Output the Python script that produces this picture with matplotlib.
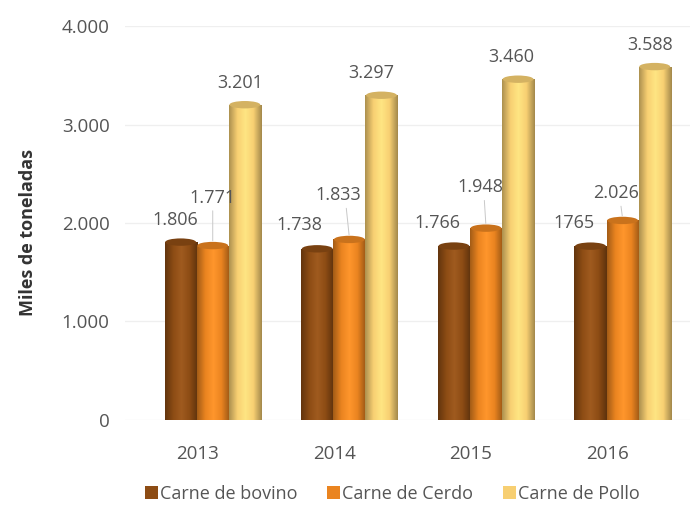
import matplotlib
matplotlib.use("Agg")
import matplotlib.pyplot as plt
import numpy as np
from matplotlib.colors import LinearSegmentedColormap, to_rgb
from matplotlib.patches import Ellipse

plt.rcParams['font.family'] = ['Open Sans', 'DejaVu Sans']

years = ["2013", "2014", "2015", "2016"]
series = ["Carne de bovino", "Carne de Cerdo", "Carne de Pollo"]
bovino = [1806, 1738, 1766, 1765]
cerdo = [1771, 1833, 1948, 2026]
pollo = [3201, 3297, 3460, 3588]
labels_bovino = ["1.806", "1.738", "1.766", "1765"]
labels_cerdo = ["1.771", "1.833", "1.948", "2.026"]
labels_pollo = ["3.201", "3.297", "3.460", "3.588"]

colors = ["#8d4c14", "#ea8420", "#f7cf72"]
# label offsets in points (dx, dy) from bar top
off_bovino = [(-3.6, 15.8), (-13, 17.3), (-12.2, 16.6), (-12.2, 16.6)]
off_cerdo = [(0, 34.6), (-8, 32), (-4.3, 29.5), (-4.7, 19.8)]
off_pollo = [(-3.6, 15.8), (-7.2, 15.8), (-5, 15.8), (-3.6, 15.8)]

fig = plt.figure(figsize=(6.93, 5.12), dpi=100)
ax = fig.add_axes([0.18, 0.1797, 0.815, 0.7695])

x = np.arange(len(years))
w = 0.235
depth = 0.11  # bars sit a little behind/right of the category labels
data = [bovino, cerdo, pollo]
labs = [labels_bovino, labels_cerdo, labels_pollo]
offs = [off_bovino, off_cerdo, off_pollo]

for yv in range(0, 4001, 1000):
    ax.axhline(yv, color="#efefef", lw=0.9, zorder=0)

handles = []
for i, (vals, col) in enumerate(zip(data, colors)):
    pos = x + depth + (i - 1) * w
    bars = ax.bar(pos, vals, width=w, color=col, zorder=2, label=series[i])
    handles.append(bars)
    base = np.array(to_rgb(col))
    dark = base * 0.7
    light = np.minimum(base * 1.06 + 0.04, 1)
    cmap = LinearSegmentedColormap.from_list("c", [dark, base, light, base, dark * 0.95])
    grad = np.linspace(0, 1, 64).reshape(1, -1)
    for b, v in zip(bars, vals):
        x0 = b.get_x()
        im = ax.imshow(grad, extent=[x0, x0 + w, 0, v], aspect="auto",
                       cmap=cmap, zorder=2.1)
        im.set_clip_path(b)
        ax.add_patch(Ellipse((x0 + w / 2, v), w * 0.96, 75, color=base * 0.86,
                             zorder=2.2, lw=0))
    for j, (p, v) in enumerate(zip(pos, vals)):
        dx, dy = offs[i][j]
        ax.annotate(labs[i][j], (p, v), xytext=(dx, dy), textcoords="offset points",
                    ha="center", va="center", fontsize=13, color="#555555", zorder=5)
        if i == 1:
            ax.annotate("", (p, v + 20), xytext=(dx * 0.3, dy - 9), textcoords="offset points",
                        arrowprops=dict(arrowstyle="-", color="#c8c8c8", lw=0.7), zorder=4)

ax.set_xlim(-0.534, 3.60)
ax.set_ylim(0, 4000)
ax.set_yticks(range(0, 4001, 1000))
ax.set_yticklabels(["0", "1.000", "2.000", "3.000", "4.000"])
ax.set_xticks(x)
ax.set_xticklabels(years)
ax.tick_params(length=0, labelsize=13.5, labelcolor="#555555")
ax.tick_params(axis="x", pad=18)
ax.tick_params(axis="y", pad=11)
for s in ax.spines.values():
    s.set_visible(False)
fig.text(28 / 693, 0.545, "Miles de toneladas", rotation=90, ha="center", va="center",
         fontsize=13, fontweight="bold", color="#333333")

fig.legend(handles=handles, labels=series, loc="center", bbox_to_anchor=(0.566, 0.035),
           ncol=3, frameon=False, fontsize=13, handlelength=0.72, handleheight=0.72,
           handletextpad=0.12, columnspacing=1.65, labelcolor="#555555")

fig.savefig("out.png", dpi=100)
